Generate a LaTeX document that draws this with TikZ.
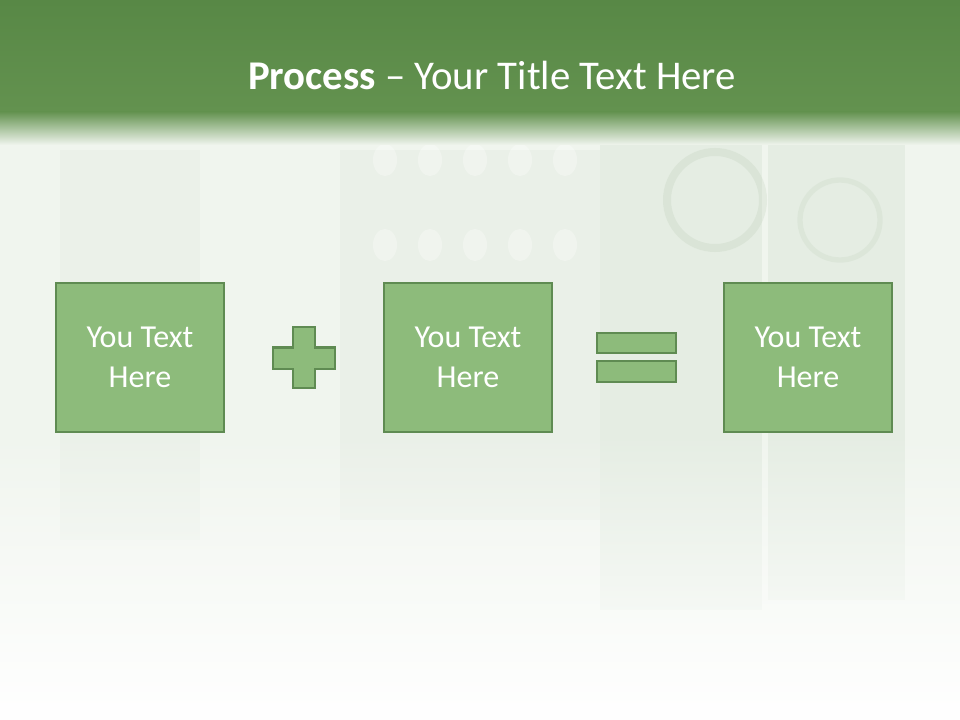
\documentclass[tikz,border=0pt]{standalone}
\usepackage{fontspec}
\setmainfont{Carlito}
\usetikzlibrary{positioning,fadings}
\definecolor{hdrtop}{HTML}{588846}
\definecolor{hdrgreen}{HTML}{63924F}
\definecolor{pagebg}{HTML}{F0F5EE}
\definecolor{boxfill}{HTML}{8DBB7B}
\definecolor{boxline}{HTML}{5F8B52}
\definecolor{texture}{HTML}{A9BFA3}

\begin{document}
\begin{tikzpicture}[
  x=0.75pt,y=-0.75pt,
  textbox/.style={draw=boxline,line width=1.9pt,fill=boxfill,
    minimum width=168*0.75pt,minimum height=149*0.75pt,inner sep=0pt,
    align=center,text=white,font=\fontsize{24}{30}\selectfont},
  sign/.style={draw=boxline,line width=1.9pt,fill=boxfill},
  faint/.style={fill=texture,opacity=0.14,draw=none}
]
% page and header band
\fill[pagebg] (0,0) rectangle (960,720);
\useasboundingbox (0,0) rectangle (960,720);
% soft background texture
\fill[faint] (600,145) rectangle (762,610);
\fill[faint] (768,145) rectangle (905,600);
\fill[faint,opacity=0.08] (340,150) rectangle (600,520);
\fill[faint,opacity=0.06] (60,150) rectangle (200,540);
\foreach \cx in {385,430,475,520,565}
  \fill[white,opacity=0.3] (\cx,160) ellipse (12 and 16);
\foreach \cx in {385,430,475,520,565}
  \fill[white,opacity=0.3] (\cx,245) ellipse (12 and 16);
\draw[texture,opacity=0.18,line width=6pt] (715,200) circle (48);
\draw[texture,opacity=0.14,line width=4pt] (840,220) circle (40);
\fill[white,path fading=north] (0,430) rectangle (960,720);
\shade[top color=hdrtop,bottom color=hdrgreen] (0,0) rectangle (960,112);
\shade[top color=hdrgreen,bottom color=pagebg] (0,111.5) rectangle (960,145);
% title
\node[text=white,font=\fontsize{30.6}{36}\selectfont] (title) at (492,75)
  {\textbf{Process} -- Your Title Text Here};
% process boxes
\node[textbox] (first) at (140,357.5) {You Text\\Here};
\node[textbox] (second) at (468,357.5) {You Text\\Here};
\node[textbox] (result) at (808,357.5) {You Text\\Here};
% plus sign
\draw[sign] (293,327) -- (315,327) -- (315,347.5) -- (335,347.5) -- (335,369)
  -- (315,369) -- (315,388) -- (293,388) -- (293,369) -- (273,369)
  -- (273,347.5) -- (293,347.5) -- cycle;
% equals sign
\draw[sign] (597,333) rectangle (676,353);
\draw[sign] (597,361) rectangle (676,382);
\end{tikzpicture}
\end{document}
